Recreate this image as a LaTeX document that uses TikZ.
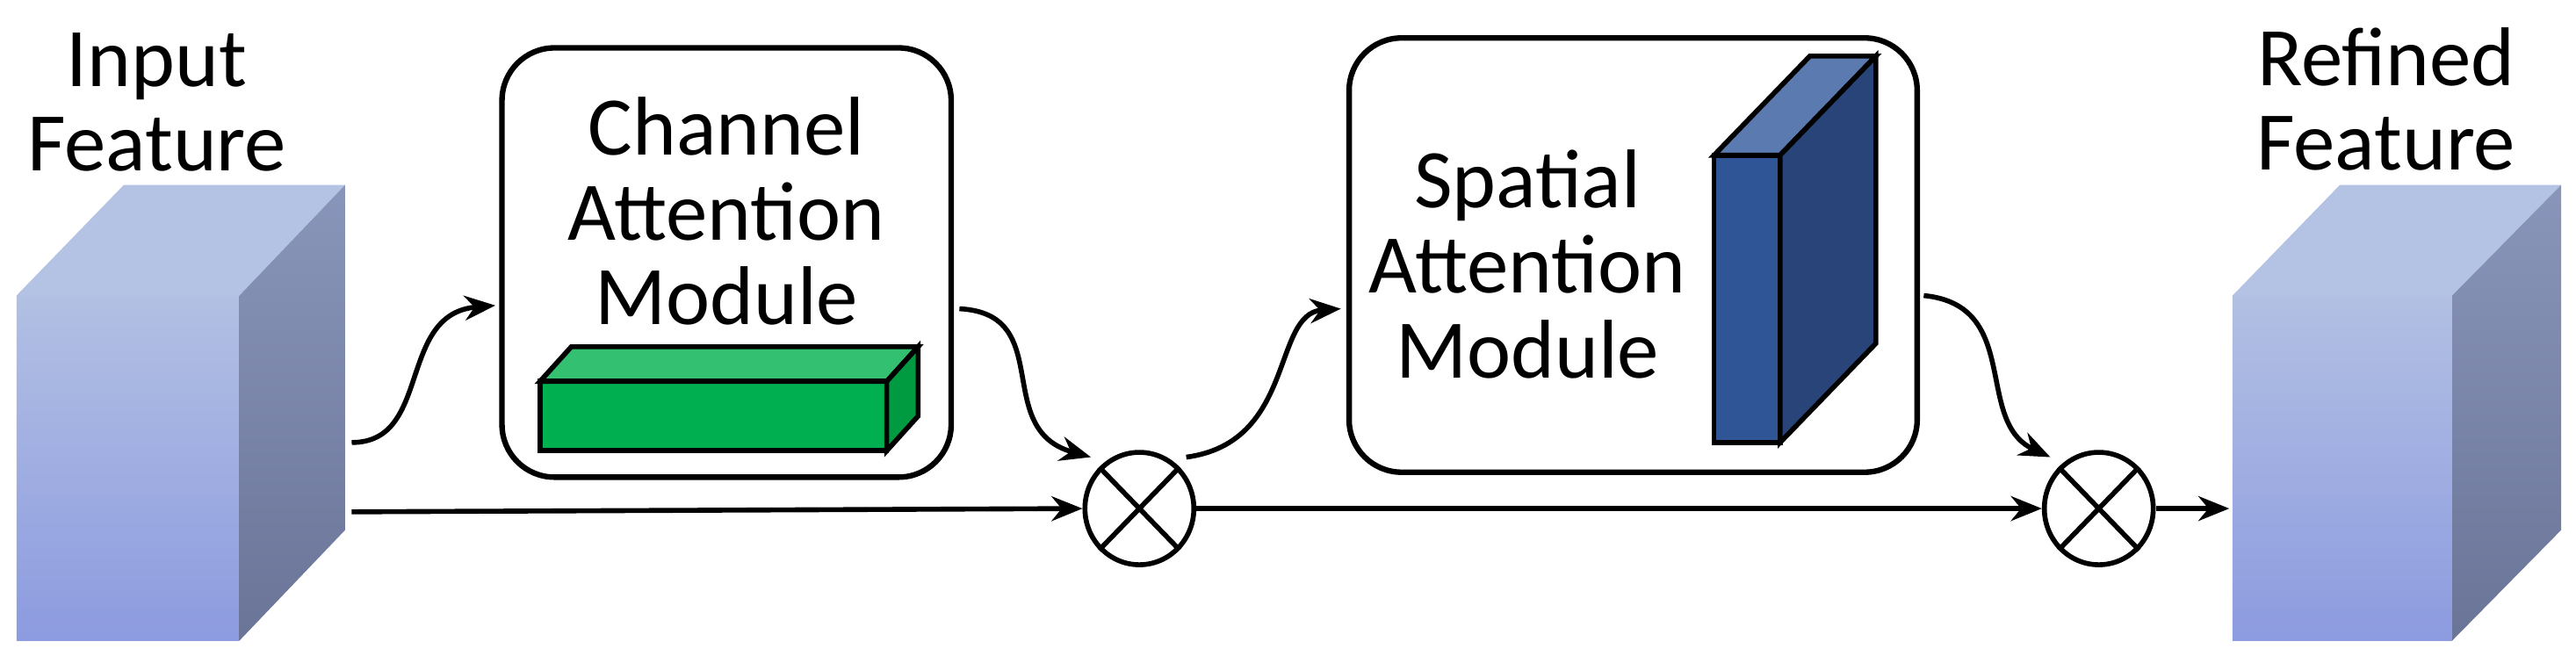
\documentclass[tikz,border=0pt]{standalone}
\usepackage{fontspec}
\setmainfont{Carlito}
\usetikzlibrary{arrows.meta,shapes.geometric}
\definecolor{cfront}{HTML}{9DADDC}
\definecolor{ctopc}{HTML}{B4C2E4}
\definecolor{cside}{HTML}{7C89B2}
\begin{document}
\begin{tikzpicture}[x=0.0188cm,y=-0.0188cm,
  lbl/.style={font=\fontsize{27}{27.5}\selectfont, align=center, inner sep=0},
  conn/.style={line width=1.6pt,-{Stealth[length=10pt,width=8pt]}},
  mod/.style={draw,line width=1.8pt,rounded corners=17pt},
  edge3/.style={draw=black,line width=1.6pt,line join=miter},
  mult/.style={draw,ellipse,line width=1.6pt,minimum width=1.24cm,minimum height=1.28cm,inner sep=0}]
\useasboundingbox (0,0) rectangle (1560,396.8);
% input cube
\shade[top color=ctopc!90!cfront,bottom color=cfront!85!blue!70!cfront] (10,179) rectangle (145,388);
\fill[ctopc] (10,179) -- (75,112) -- (209,112) -- (145,179) -- cycle;
\shade[top color=cside!90!white, bottom color=cside!85!black] (145,179) -- (209,112) -- (209,321) -- (145,388) -- cycle;
\coordinate (inR) at (213,310);
\coordinate (inRup) at (213,268);
\node[lbl] (inT) at (95,62) {Input\\Feature};
% channel module
\draw[mod] (304,29) rectangle (576,289);
\node[lbl] (camT) at (440,128) {Channel\\Attention\\Module};
\fill[fill={rgb,255:red,0;green,176;blue,80}] (327,231) rectangle (537,273);
\draw[edge3,fill={rgb,255:red,51;green,192;blue,112}] (327,231) -- (346,210) -- (556,210) -- (537,231) -- cycle;
\draw[edge3,fill={rgb,255:red,0;green,154;blue,64}] (537,231) -- (556,210) -- (556,252) -- (537,273) -- cycle;
\draw[edge3] (327,231) rectangle (537,273);
% circle 1
\node[mult] (m1) at (690,308) {};
\draw[line width=1.6pt] (m1.north west) -- (m1.south east) (m1.north east) -- (m1.south west);
% spatial module
\draw[mod] (817,23) rectangle (1161,286);
\node[lbl] (samT) at (925,160) {Spatial\\Attention\\Module};
\draw[edge3,fill={rgb,255:red,47;green,85;blue,151}] (1038,94) rectangle (1078,268);
\draw[edge3,fill={rgb,255:red,91;green,122;blue,176}] (1038,94) -- (1096,34) -- (1136,34) -- (1078,94) -- cycle;
\draw[edge3,fill={rgb,255:red,40;green,68;blue,120}] (1078,94) -- (1136,34) -- (1136,208) -- (1078,268) -- cycle;
% circle 2
\node[mult] (m2) at (1271,308) {};
\draw[line width=1.6pt] (m2.north west) -- (m2.south east) (m2.north east) -- (m2.south west);
% refined cube
\shade[top color=ctopc!90!cfront,bottom color=cfront!85!blue!70!cfront] (1352,179) rectangle (1485,388);
\fill[ctopc] (1352,179) -- (1417,112) -- (1551,112) -- (1485,179) -- cycle;
\shade[top color=cside!90!white, bottom color=cside!85!black] (1485,179) -- (1551,112) -- (1551,321) -- (1485,388) -- cycle;
\coordinate (outL) at (1350,308);
\node[lbl] (outT) at (1445,60) {Refined\\Feature};
% connectors
\coordinate (camIn) at (300,185);
\coordinate (camOut) at (581,187);
\coordinate (samIn) at (812,187);
\coordinate (samOut) at (1165,179);
\draw[conn] (inRup) .. controls (262,268) and (240,190) .. (camIn);
\draw[conn] (camOut) .. controls (640,190) and (600,260) .. ([shift={(-5,-6)}]m1.north west);
\draw[conn] (inR) -- (m1.west);
\draw[conn] ([shift={(4,-6)}]m1.north east) .. controls (785,268) and (770,190) .. (samIn);
\draw[conn] (samOut) .. controls (1225,185) and (1195,255) .. ([shift={(-5,-6)}]m2.north west);
\draw[conn] (m1.east) -- (m2.west);
\draw[conn] (m2.east) -- (outL);
\end{tikzpicture}
\end{document}
